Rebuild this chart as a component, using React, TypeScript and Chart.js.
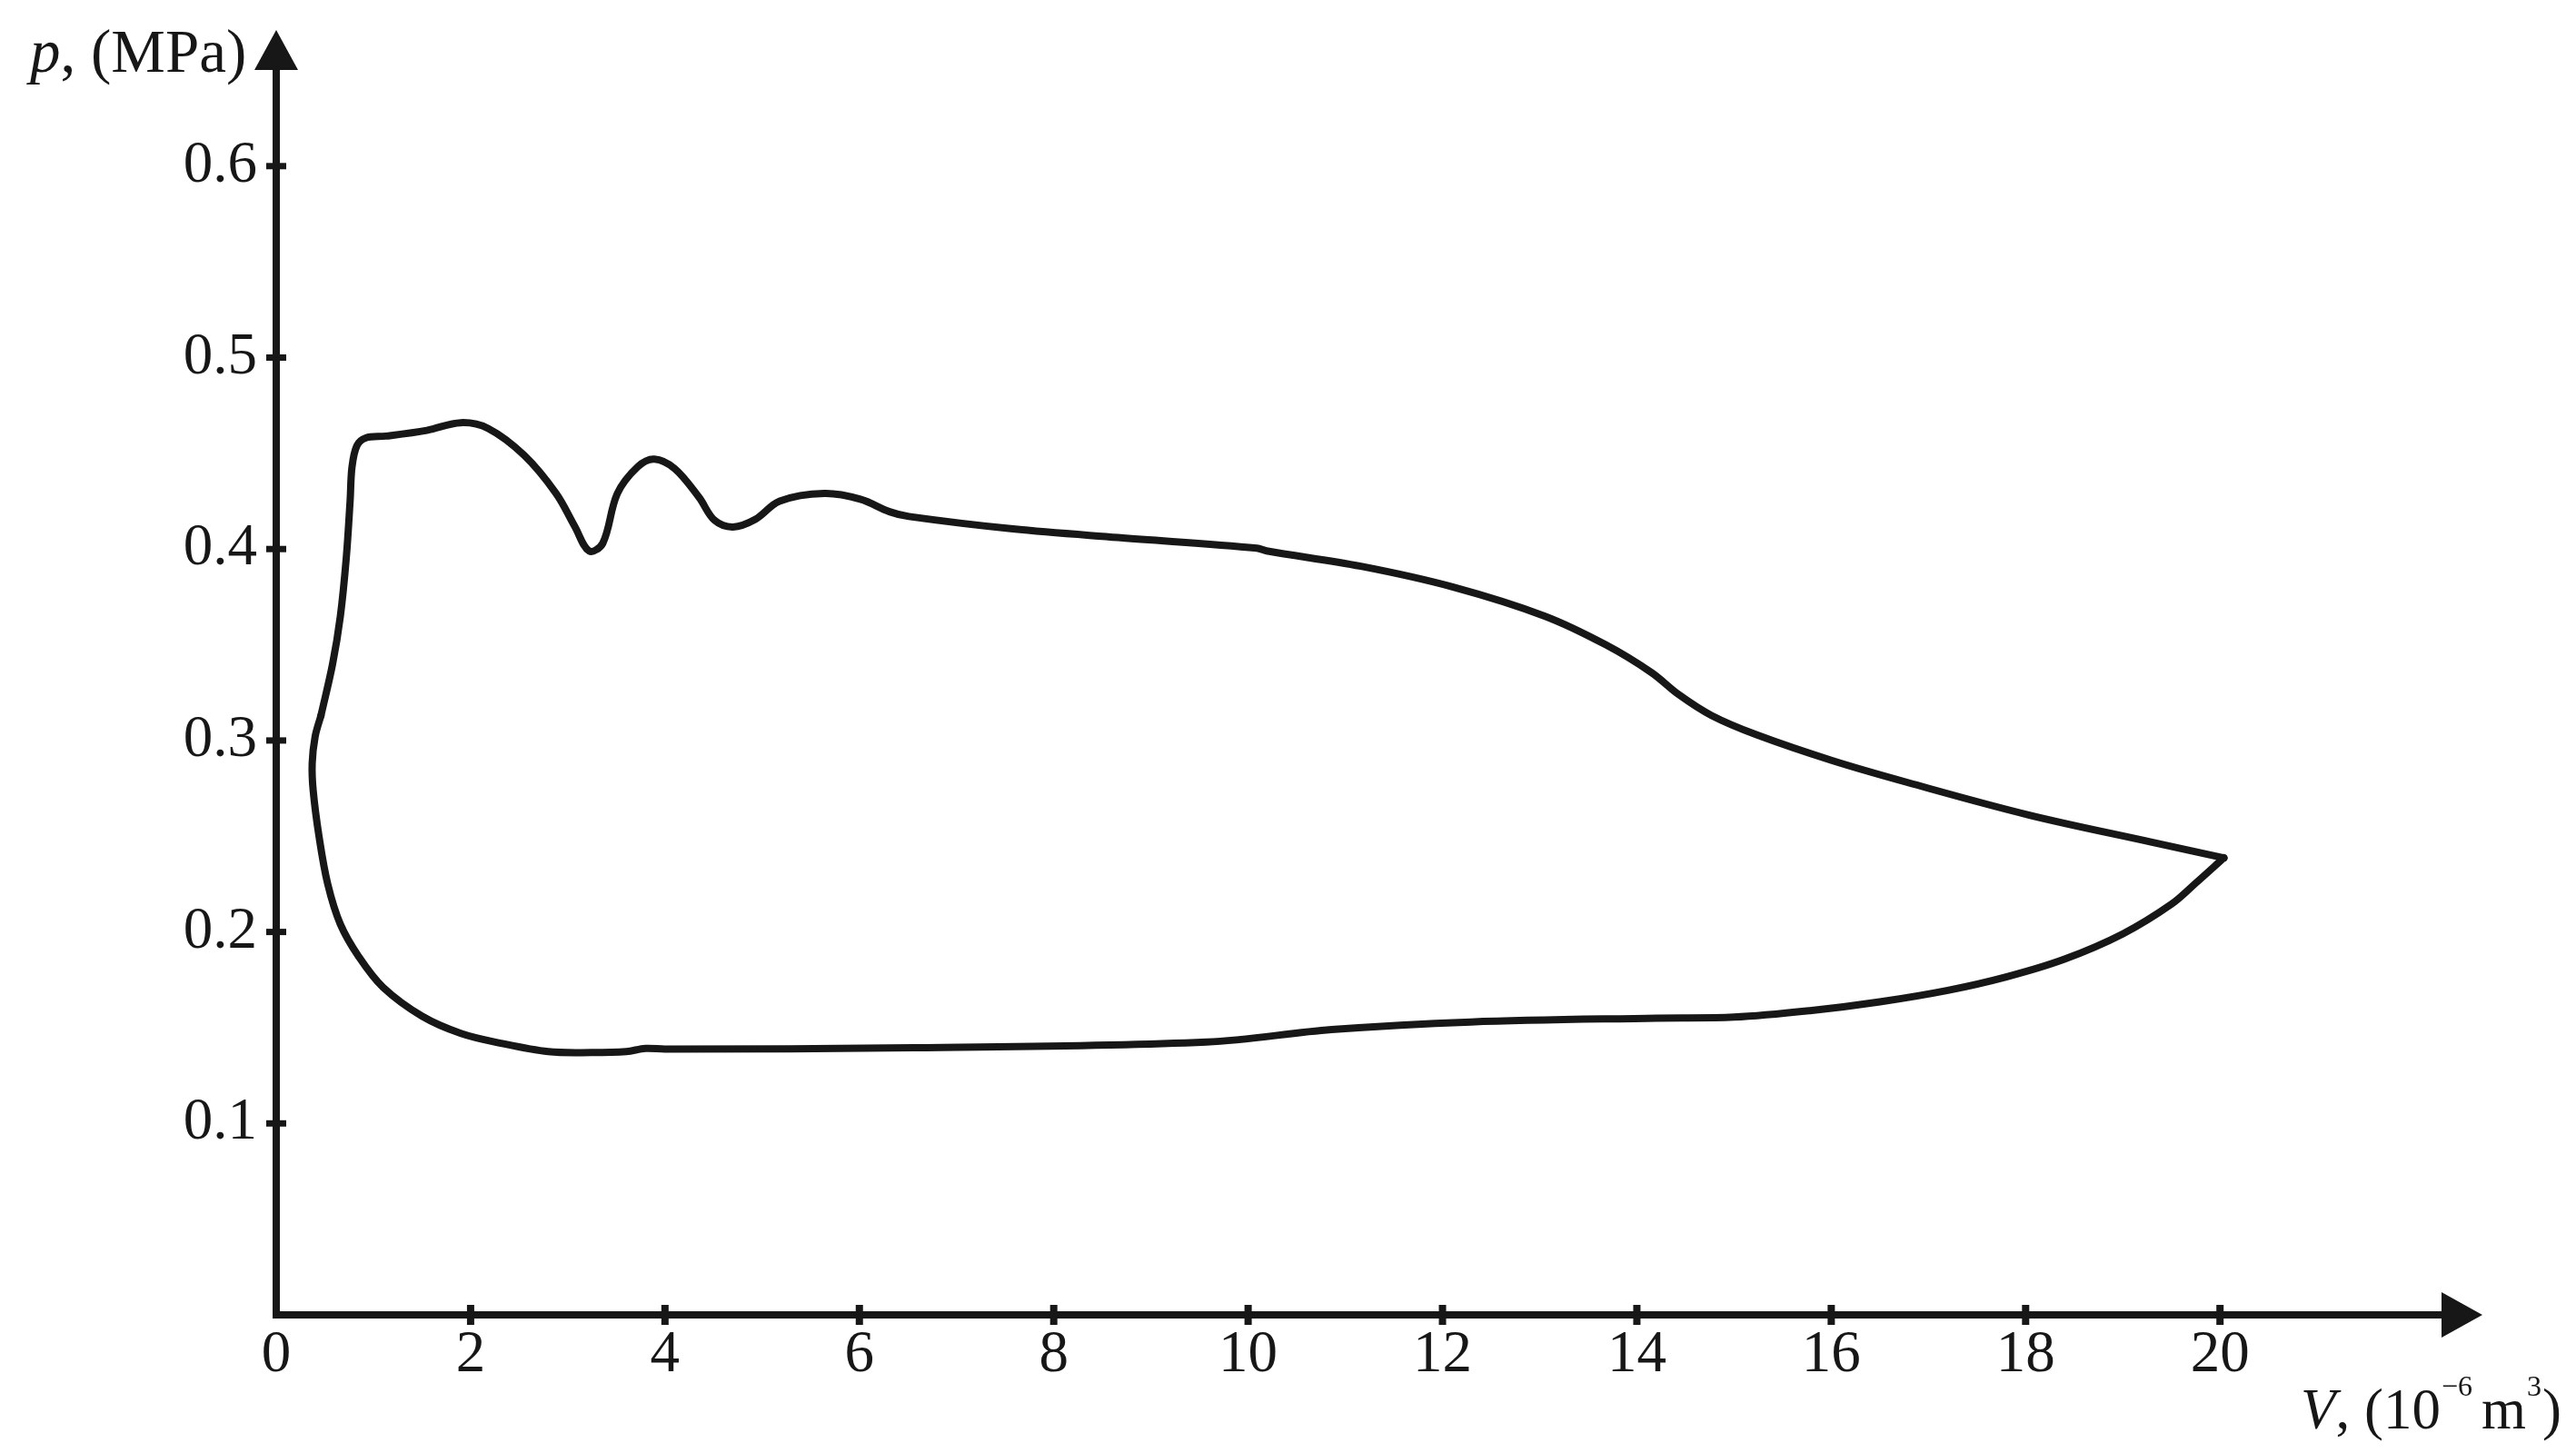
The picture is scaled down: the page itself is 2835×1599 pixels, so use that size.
import React, { useEffect, useRef } from 'react';
import { Chart, registerables } from 'chart.js';

Chart.register(...registerables);

// ---- data ----
const xTickValues = [0, 2, 4, 6, 8, 10, 12, 14, 16, 18, 20];
const xTickLabels = ['0', '2', '4', '6', '8', '10', '12', '14', '16', '18', '20'];
const yTickValues = [0.1, 0.2, 0.3, 0.4, 0.5, 0.6];
const yTickLabels = ['0.1', '0.2', '0.3', '0.4', '0.5', '0.6'];

// upper branch (from left kink, over the top, to the right tip)
const upperV = [0.46, 0.58, 0.66, 0.72, 0.76, 0.78, 0.83, 0.92, 1.13, 1.55, 1.9, 2.18, 2.55, 2.88, 3.07, 3.22, 3.36, 3.51, 3.72, 3.89, 4.1, 4.35, 4.51, 4.7, 4.93, 5.18, 5.64, 6.01, 6.31, 6.51, 7.58, 8.66, 10.09, 10.19, 11.16, 12.12, 13.05, 13.68, 14.15, 14.43, 14.77, 15.23, 16.01, 16.79, 18.04, 19.29, 20.04];
const upperP = [0.313, 0.34, 0.365, 0.395, 0.425, 0.443, 0.454, 0.458, 0.459, 0.462, 0.466, 0.463, 0.449, 0.429, 0.412, 0.399, 0.403, 0.429, 0.443, 0.447, 0.442, 0.427, 0.415, 0.4115, 0.4155, 0.425, 0.429, 0.426, 0.4195, 0.417, 0.4105, 0.406, 0.4005, 0.399, 0.391, 0.38, 0.365, 0.35, 0.3355, 0.324, 0.313, 0.303, 0.2895, 0.278, 0.261, 0.247, 0.2387];

// lower branch (from the right tip, along the bottom, back to the left kink)
const lowerV = [20.04, 19.75, 19.5, 19.0, 18.4, 17.8, 17.2, 16.5, 15.8, 15.0, 14.2, 12.29, 10.86, 9.57, 6.56, 4.0, 3.8, 3.6, 3.24, 2.8, 2.3, 1.9, 1.5, 1.1, 0.85, 0.66, 0.53, 0.44, 0.38, 0.37, 0.4, 0.46];
const lowerP = [0.2387, 0.2255, 0.2145, 0.199, 0.1858, 0.1765, 0.1695, 0.1635, 0.159, 0.1555, 0.155, 0.153, 0.149, 0.1425, 0.1395, 0.1388, 0.1392, 0.1375, 0.137, 0.1375, 0.142, 0.147, 0.156, 0.171, 0.187, 0.204, 0.225, 0.25, 0.274, 0.288, 0.302, 0.313];

const INK = '#171717';
const SERIF = '"Liberation Serif", "Times New Roman", serif';

const toPoints = (xs: number[], ys: number[]) => xs.map((x, i) => ({ x, y: ys[i] }));

const axesPlugin = {
  id: 'axesArrows',
  afterDatasetsDraw(chart: any) {
    const { ctx, chartArea } = chart;
    const xs = chart.scales.x;
    const ys = chart.scales.y;
    const x0 = xs.getPixelForValue(0);
    const y0 = ys.getPixelForValue(0);
    ctx.save();
    ctx.strokeStyle = INK;
    ctx.fillStyle = INK;
    ctx.lineCap = 'butt';
    ctx.lineWidth = 8;
    // y axis line
    ctx.beginPath();
    ctx.moveTo(x0, y0 + 4);
    ctx.lineTo(x0, chartArea.top + 40);
    ctx.stroke();
    // y arrow head
    ctx.beginPath();
    ctx.moveTo(x0, chartArea.top);
    ctx.lineTo(x0 - 24, chartArea.top + 44);
    ctx.lineTo(x0 + 24, chartArea.top + 44);
    ctx.closePath();
    ctx.fill();
    // x axis line
    ctx.beginPath();
    ctx.moveTo(x0 - 4, y0);
    ctx.lineTo(chartArea.right - 40, y0);
    ctx.stroke();
    // x arrow head
    ctx.beginPath();
    ctx.moveTo(chartArea.right, y0);
    ctx.lineTo(chartArea.right - 45, y0 - 25);
    ctx.lineTo(chartArea.right - 45, y0 + 25);
    ctx.closePath();
    ctx.fill();
    // tick marks
    ctx.lineWidth = 8;
    xTickValues.forEach((v) => {
      if (v === 0) return;
      const px = xs.getPixelForValue(v);
      ctx.beginPath();
      ctx.moveTo(px, y0 - 11);
      ctx.lineTo(px, y0 + 11);
      ctx.stroke();
    });
    ctx.lineWidth = 7;
    yTickValues.forEach((v) => {
      const py = ys.getPixelForValue(v);
      ctx.beginPath();
      ctx.moveTo(x0 - 11, py);
      ctx.lineTo(x0 + 11, py);
      ctx.stroke();
    });

    // y title: p, (MPa)
    ctx.textAlign = 'left';
    ctx.textBaseline = 'alphabetic';
    let tx = 33;
    const tyY = 79;
    ctx.font = `italic 67px ${SERIF}`;
    ctx.fillText('p', tx, tyY);
    tx += ctx.measureText('p').width;
    ctx.font = `67px ${SERIF}`;
    ctx.fillText(', (MPa)', tx, tyY);

    // x title: V, (10^-6 m^3)
    let vx = 2532;
    const vy = 1572;
    ctx.font = `italic 63px ${SERIF}`;
    ctx.fillText('V', vx, vy);
    vx += ctx.measureText('V').width;
    ctx.font = `63px ${SERIF}`;
    ctx.fillText(', (10', vx, vy);
    vx += ctx.measureText(', (10').width + 1;
    ctx.font = `32px ${SERIF}`;
    ctx.fillText('\u22126', vx, vy - 36);
    vx += ctx.measureText('\u22126').width + 10;
    ctx.font = `63px ${SERIF}`;
    ctx.fillText('m', vx, vy);
    vx += ctx.measureText('m').width + 1;
    ctx.font = `32px ${SERIF}`;
    ctx.fillText('3', vx, vy - 36);
    vx += ctx.measureText('3').width + 1;
    ctx.font = `63px ${SERIF}`;
    ctx.fillText(')', vx, vy);
    ctx.restore();
  },
};

export default function App() {
  const canvasRef = useRef<HTMLCanvasElement | null>(null);

  useEffect(() => {
    document.body.style.margin = '0';
    const canvas = canvasRef.current;
    if (!canvas) return;
    const lineDs = (data: any[]) => ({
      data,
      showLine: true,
      borderColor: INK,
      borderWidth: 8,
      pointRadius: 0,
      pointHoverRadius: 0,
      tension: 0.35,
      fill: false,
      clip: false as any,
      borderCapStyle: 'round' as const,
      borderJoinStyle: 'round' as const,
    });
    const chart = new Chart(canvas, {
      type: 'scatter',
      data: {
        datasets: [lineDs(toPoints(upperV, upperP)), lineDs(toPoints(lowerV, lowerP))],
      },
      options: {
        responsive: false,
        animation: false,
        devicePixelRatio: 1,
        layout: { padding: { left: 0, top: 33, right: 103, bottom: 0 } },
        plugins: { legend: { display: false }, tooltip: { enabled: false } },
        scales: {
          x: {
            type: 'linear',
            min: 0,
            max: 22.7,
            grid: { display: false, drawTicks: false },
            border: { display: false },
            afterBuildTicks: (s: any) => {
              s.ticks = xTickValues.map((v) => ({ value: v }));
            },
            afterFit: (s: any) => {
              s.height = 152;
              s.paddingLeft = 0;
              s.paddingRight = 0;
              s.paddingTop = 0;
              s.paddingBottom = 0;
            },
            ticks: {
              autoSkip: false,
              maxRotation: 0,
              minRotation: 0,
              padding: 6,
              color: INK,
              font: { family: SERIF, size: 65 },
              callback: (_v: any, i: number) => xTickLabels[i],
            },
          },
          y: {
            type: 'linear',
            min: 0,
            max: 0.6711,
            grid: { display: false, drawTicks: false },
            border: { display: false },
            afterBuildTicks: (s: any) => {
              s.ticks = yTickValues.map((v) => ({ value: v }));
            },
            afterFit: (s: any) => {
              s.width = 304;
              s.paddingLeft = 0;
              s.paddingRight = 0;
              s.paddingTop = 0;
              s.paddingBottom = 0;
            },
            ticks: {
              autoSkip: false,
              padding: 21,
              color: INK,
              font: { family: SERIF, size: 65 },
              callback: (_v: any, i: number) => yTickLabels[i],
            },
          },
        },
      },
      plugins: [axesPlugin],
    });
    return () => chart.destroy();
  }, []);

  return (
    <div style={{ width: 2835, height: 1599, background: '#ffffff' }}>
      <canvas ref={canvasRef} width={2835} height={1599} style={{ display: 'block' }} />
    </div>
  );
}
